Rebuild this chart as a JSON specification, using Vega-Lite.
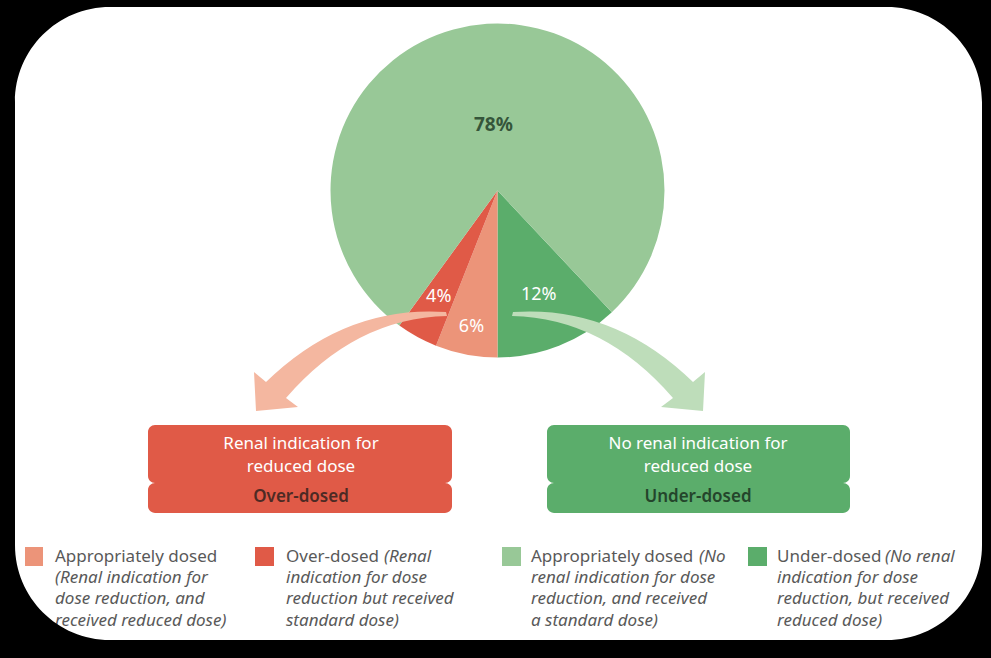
{
  "$schema": "https://vega.github.io/schema/vega-lite/v6.json",
  "width": 991,
  "height": 658,
  "autosize": {"type": "none"},
  "padding": 0,
  "background": "white",
  "config": {"view": {"stroke": null}, "axis": {"disable": true}, "text": {"font": "Noto Sans"}},
  "datasets": {
    "slices": [
      {"idx": 1, "group": "Under-dosed", "value": 12, "label": "12%"},
      {"idx": 2, "group": "Appropriately dosed (renal indication)", "value": 6, "label": "6%"},
      {"idx": 3, "group": "Over-dosed", "value": 4, "label": "4%"},
      {"idx": 4, "group": "Appropriately dosed (no renal indication)", "value": 78, "label": "78%"}
    ],
    "blank": [{}]
  },
  "layer": [
    {
      "data": {"name": "slices"},
      "mark": {"type": "arc", "radius": 167},
      "encoding": {
        "theta": {"field": "value", "type": "quantitative", "stack": true, "scale": {"range": [2.3876, 8.6708]}},
        "order": {"field": "idx", "type": "quantitative"},
        "color": {"field": "group", "type": "nominal", "legend": null,
          "scale": {"domain": ["Appropriately dosed (renal indication)", "Over-dosed", "Appropriately dosed (no renal indication)", "Under-dosed"],
                    "range": ["#EC9479", "#E05A47", "#98C897", "#5BAD6B"]}},
        "x": {"datum": 497.5, "type": "quantitative", "scale": {"domain": [0, 991], "nice": false, "zero": false}, "axis": null},
        "y": {"datum": 190.5, "type": "quantitative", "scale": {"domain": [0, 658], "nice": false, "zero": false, "reverse": true}, "axis": null}
      }
    },
    {
      "data": {"name": "blank"},
      "mark": {"type": "point", "shape": "M0.96,-0.48 Q-0.05,-0.55 -0.84,0.22 L-0.96,0.12 L-0.94,0.51 L-0.52,0.47 L-0.64,0.38 Q0.05,-0.42 0.97,-0.44 Z", "size": 40000, "filled": true, "opacity": 1, "strokeWidth": 0, "fill": "#F4B7A0"},
      "encoding": {"x": {"datum": 350, "type": "quantitative"}, "y": {"datum": 360, "type": "quantitative"}}
    },
    {
      "data": {"name": "blank"},
      "mark": {"type": "point", "shape": "M-0.96,-0.48 Q0.05,-0.55 0.84,0.22 L0.96,0.12 L0.94,0.51 L0.52,0.47 L0.64,0.38 Q-0.05,-0.42 -0.97,-0.44 Z", "size": 40000, "filled": true, "opacity": 1, "strokeWidth": 0, "fill": "#BEDDBA"},
      "encoding": {"x": {"datum": 609, "type": "quantitative"}, "y": {"datum": 360, "type": "quantitative"}}
    },
    {
      "data": {"name": "slices"},
      "mark": {"type": "text", "radius": 66, "fontSize": 19, "fontWeight": "bold", "fill": "#35553A", "align": "center", "baseline": "middle"},
      "encoding": {
        "theta": {"field": "value", "type": "quantitative", "stack": true},
        "order": {"field": "idx", "type": "quantitative"},
        "text": {"condition": {"test": "datum.idx === 4", "field": "label"}, "value": ""},
        "x": {"datum": 497.5, "type": "quantitative"},
        "y": {"datum": 190.5, "type": "quantitative"}
      }
    },
    {
      "data": {"name": "slices"},
      "mark": {"type": "text", "radius": 122, "fontSize": 18, "fill": "white", "align": "center", "baseline": "middle"},
      "encoding": {
        "theta": {"field": "value", "type": "quantitative", "stack": true},
        "order": {"field": "idx", "type": "quantitative"},
        "text": {"condition": {"test": "datum.idx === 3", "field": "label"}, "value": ""},
        "x": {"datum": 497.5, "type": "quantitative"},
        "y": {"datum": 190.5, "type": "quantitative"}
      }
    },
    {
      "data": {"name": "slices"},
      "mark": {"type": "text", "radius": 139, "fontSize": 18, "fill": "white", "align": "center", "baseline": "middle"},
      "encoding": {
        "theta": {"field": "value", "type": "quantitative", "stack": true},
        "order": {"field": "idx", "type": "quantitative"},
        "text": {"condition": {"test": "datum.idx === 2", "field": "label"}, "value": ""},
        "x": {"datum": 497.5, "type": "quantitative"},
        "y": {"datum": 190.5, "type": "quantitative"}
      }
    },
    {
      "data": {"name": "slices"},
      "mark": {"type": "text", "radius": 112, "fontSize": 18, "fill": "white", "align": "center", "baseline": "middle"},
      "encoding": {
        "theta": {"field": "value", "type": "quantitative", "stack": true},
        "order": {"field": "idx", "type": "quantitative"},
        "text": {"condition": {"test": "datum.idx === 1", "field": "label"}, "value": ""},
        "x": {"datum": 497.5, "type": "quantitative"},
        "y": {"datum": 190.5, "type": "quantitative"}
      }
    },
    {
      "data": {"name": "blank"},
      "mark": {"type": "rect", "fill": "#E05A47", "cornerRadius": 7},
      "encoding": {"x": {"datum": 148, "type": "quantitative"}, "x2": {"datum": 452}, "y": {"datum": 425, "type": "quantitative"}, "y2": {"datum": 483}}
    },
    {
      "data": {"name": "blank"},
      "mark": {"type": "rect", "fill": "#E05A47", "cornerRadius": 7},
      "encoding": {"x": {"datum": 148, "type": "quantitative"}, "x2": {"datum": 452}, "y": {"datum": 483, "type": "quantitative"}, "y2": {"datum": 513}}
    },
    {
      "data": {"name": "blank"},
      "mark": {"type": "rect", "fill": "#5BAD6B", "cornerRadius": 7},
      "encoding": {"x": {"datum": 547, "type": "quantitative"}, "x2": {"datum": 850}, "y": {"datum": 425, "type": "quantitative"}, "y2": {"datum": 483}}
    },
    {
      "data": {"name": "blank"},
      "mark": {"type": "rect", "fill": "#5BAD6B", "cornerRadius": 7},
      "encoding": {"x": {"datum": 547, "type": "quantitative"}, "x2": {"datum": 850}, "y": {"datum": 483, "type": "quantitative"}, "y2": {"datum": 513}}
    },
    {
      "data": {"name": "blank"},
      "mark": {"type": "text", "text": ["Renal indication for", "reduced dose"], "lineHeight": 23, "fontSize": 17, "fill": "white", "align": "center", "baseline": "alphabetic"},
      "encoding": {"x": {"datum": 301, "type": "quantitative"}, "y": {"datum": 449, "type": "quantitative"}}
    },
    {
      "data": {"name": "blank"},
      "mark": {"type": "text", "text": "Over-dosed", "fontSize": 17, "fontWeight": 600, "fill": "#4D2A24", "align": "center", "baseline": "alphabetic"},
      "encoding": {"x": {"datum": 301, "type": "quantitative"}, "y": {"datum": 502, "type": "quantitative"}}
    },
    {
      "data": {"name": "blank"},
      "mark": {"type": "text", "text": ["No renal indication for", "reduced dose"], "lineHeight": 23, "fontSize": 17, "fill": "white", "align": "center", "baseline": "alphabetic"},
      "encoding": {"x": {"datum": 698, "type": "quantitative"}, "y": {"datum": 449, "type": "quantitative"}}
    },
    {
      "data": {"name": "blank"},
      "mark": {"type": "text", "text": "Under-dosed", "fontSize": 17, "fontWeight": 600, "fill": "#24452B", "align": "center", "baseline": "alphabetic"},
      "encoding": {"x": {"datum": 698, "type": "quantitative"}, "y": {"datum": 502, "type": "quantitative"}}
    },
    {
      "data": {"name": "slices"},
      "transform": [{"filter": "datum.idx === 2"}],
      "mark": {"type": "rect"},
      "encoding": {"color": {"field": "group", "type": "nominal", "legend": null}, "x": {"datum": 25, "type": "quantitative"}, "x2": {"datum": 43}, "y": {"datum": 547, "type": "quantitative"}, "y2": {"datum": 566}}
    },
    {
      "data": {"name": "slices"},
      "transform": [{"filter": "datum.idx === 3"}],
      "mark": {"type": "rect"},
      "encoding": {"color": {"field": "group", "type": "nominal", "legend": null}, "x": {"datum": 255, "type": "quantitative"}, "x2": {"datum": 274}, "y": {"datum": 547, "type": "quantitative"}, "y2": {"datum": 566}}
    },
    {
      "data": {"name": "slices"},
      "transform": [{"filter": "datum.idx === 4"}],
      "mark": {"type": "rect"},
      "encoding": {"color": {"field": "group", "type": "nominal", "legend": null}, "x": {"datum": 502, "type": "quantitative"}, "x2": {"datum": 521}, "y": {"datum": 547, "type": "quantitative"}, "y2": {"datum": 566}}
    },
    {
      "data": {"name": "slices"},
      "transform": [{"filter": "datum.idx === 1"}],
      "mark": {"type": "rect"},
      "encoding": {"color": {"field": "group", "type": "nominal", "legend": null}, "x": {"datum": 748, "type": "quantitative"}, "x2": {"datum": 767}, "y": {"datum": 547, "type": "quantitative"}, "y2": {"datum": 566}}
    },
    {
      "data": {"name": "blank"},
      "mark": {"type": "text", "text": "Appropriately dosed", "fontSize": 17, "fill": "#595959", "align": "left", "baseline": "alphabetic"},
      "encoding": {"x": {"datum": 55, "type": "quantitative"}, "y": {"datum": 562, "type": "quantitative"}}
    },
    {
      "data": {"name": "blank"},
      "mark": {"type": "text", "text": ["(Renal indication for", "dose reduction, and", "received reduced dose)"], "lineHeight": 21.3, "fontSize": 17, "fontStyle": "italic", "fill": "#595959", "align": "left", "baseline": "alphabetic"},
      "encoding": {"x": {"datum": 55, "type": "quantitative"}, "y": {"datum": 583, "type": "quantitative"}}
    },
    {
      "data": {"name": "blank"},
      "mark": {"type": "text", "text": "Over-dosed", "fontSize": 17, "fill": "#595959", "align": "left", "baseline": "alphabetic"},
      "encoding": {"x": {"datum": 286, "type": "quantitative"}, "y": {"datum": 562, "type": "quantitative"}}
    },
    {
      "data": {"name": "blank"},
      "mark": {"type": "text", "text": "(Renal", "fontSize": 17, "fontStyle": "italic", "fill": "#595959", "align": "left", "baseline": "alphabetic"},
      "encoding": {"x": {"datum": 384, "type": "quantitative"}, "y": {"datum": 562, "type": "quantitative"}}
    },
    {
      "data": {"name": "blank"},
      "mark": {"type": "text", "text": ["indication for dose", "reduction but received", "standard dose)"], "lineHeight": 21.3, "fontSize": 17, "fontStyle": "italic", "fill": "#595959", "align": "left", "baseline": "alphabetic"},
      "encoding": {"x": {"datum": 286, "type": "quantitative"}, "y": {"datum": 583, "type": "quantitative"}}
    },
    {
      "data": {"name": "blank"},
      "mark": {"type": "text", "text": "Appropriately dosed", "fontSize": 17, "fill": "#595959", "align": "left", "baseline": "alphabetic"},
      "encoding": {"x": {"datum": 531, "type": "quantitative"}, "y": {"datum": 562, "type": "quantitative"}}
    },
    {
      "data": {"name": "blank"},
      "mark": {"type": "text", "text": "(No", "fontSize": 17, "fontStyle": "italic", "fill": "#595959", "align": "left", "baseline": "alphabetic"},
      "encoding": {"x": {"datum": 699, "type": "quantitative"}, "y": {"datum": 562, "type": "quantitative"}}
    },
    {
      "data": {"name": "blank"},
      "mark": {"type": "text", "text": ["renal indication for dose", "reduction, and received", "a standard dose)"], "lineHeight": 21.3, "fontSize": 17, "fontStyle": "italic", "fill": "#595959", "align": "left", "baseline": "alphabetic"},
      "encoding": {"x": {"datum": 531, "type": "quantitative"}, "y": {"datum": 583, "type": "quantitative"}}
    },
    {
      "data": {"name": "blank"},
      "mark": {"type": "text", "text": "Under-dosed", "fontSize": 17, "fill": "#595959", "align": "left", "baseline": "alphabetic"},
      "encoding": {"x": {"datum": 777, "type": "quantitative"}, "y": {"datum": 562, "type": "quantitative"}}
    },
    {
      "data": {"name": "blank"},
      "mark": {"type": "text", "text": "(No renal", "fontSize": 17, "fontStyle": "italic", "fill": "#595959", "align": "left", "baseline": "alphabetic"},
      "encoding": {"x": {"datum": 885, "type": "quantitative"}, "y": {"datum": 562, "type": "quantitative"}}
    },
    {
      "data": {"name": "blank"},
      "mark": {"type": "text", "text": ["indication for dose", "reduction, but received", "reduced dose)"], "lineHeight": 21.3, "fontSize": 17, "fontStyle": "italic", "fill": "#595959", "align": "left", "baseline": "alphabetic"},
      "encoding": {"x": {"datum": 777, "type": "quantitative"}, "y": {"datum": 583, "type": "quantitative"}}
    },
    {
      "data": {"name": "blank"},
      "mark": {"type": "point", "shape": "M-5.2,-3.5 L5.2,-3.5 L5.2,3.5 L-5.2,3.5 Z M-3.885,-3.165 C-4.41,-3.165 -4.835,-2.74 -4.835,-2.215 L-4.835,2.215 C-4.835,2.74 -4.41,3.165 -3.885,3.165 L3.885,3.165 C4.41,3.165 4.835,2.74 4.835,2.215 L4.835,-2.215 C4.835,-2.74 4.41,-3.165 3.885,-3.165 Z", "size": 40000, "filled": true, "opacity": 1, "strokeWidth": 0, "fill": "black"},
      "encoding": {"x": {"datum": 498.5, "type": "quantitative"}, "y": {"datum": 323.5, "type": "quantitative"}}
    }
  ]
}
